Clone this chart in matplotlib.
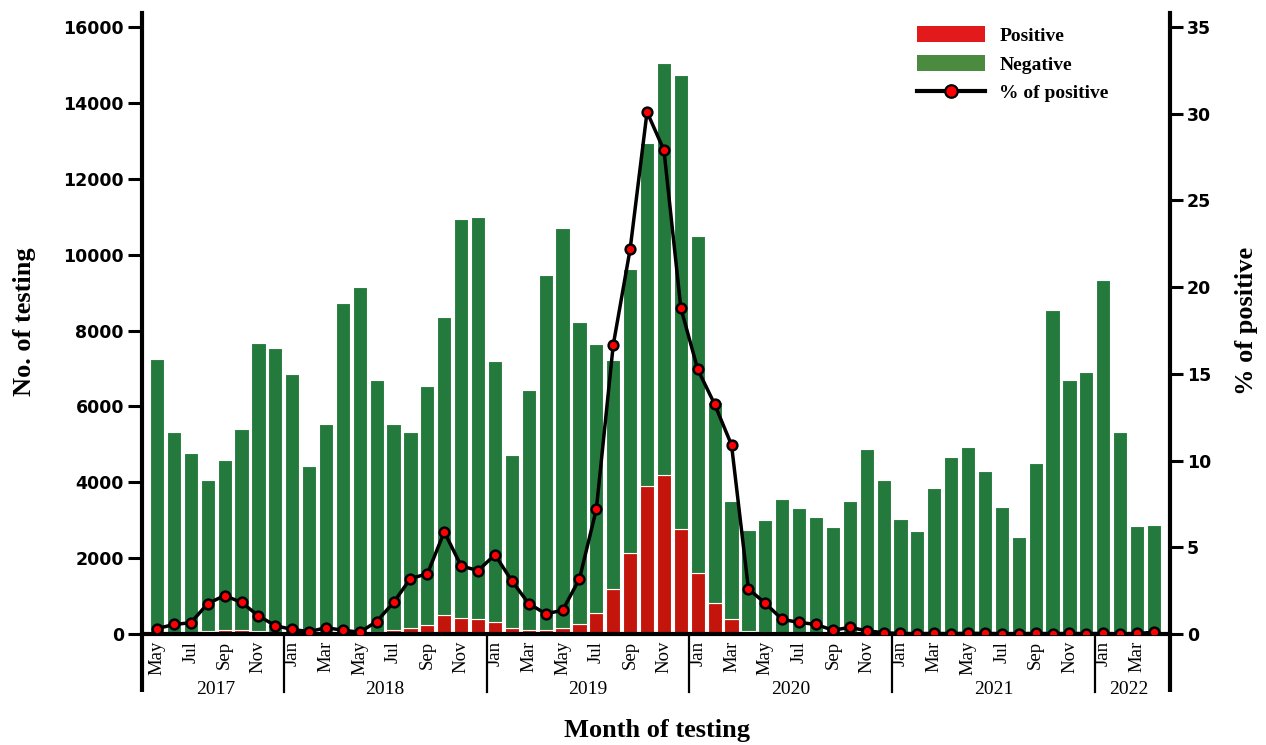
import matplotlib
matplotlib.use("Agg")
import matplotlib.pyplot as plt
from matplotlib.patches import Patch
from matplotlib.lines import Line2D
import numpy as np

# ---------------- data ----------------
years = ["2017", "2018", "2019", "2020", "2021", "2022"]
months_per_year = [8, 12, 12, 12, 12, 4]
month_names = ["May", "Jun", "Jul", "Aug", "Sep", "Oct", "Nov", "Dec",
               "Jan", "Feb", "Mar", "Apr", "May", "Jun", "Jul", "Aug", "Sep", "Oct", "Nov", "Dec",
               "Jan", "Feb", "Mar", "Apr", "May", "Jun", "Jul", "Aug", "Sep", "Oct", "Nov", "Dec",
               "Jan", "Feb", "Mar", "Apr", "May", "Jun", "Jul", "Aug", "Sep", "Oct", "Nov", "Dec",
               "Jan", "Feb", "Mar", "Apr", "May", "Jun", "Jul", "Aug", "Sep", "Oct", "Nov", "Dec",
               "Jan", "Feb", "Mar", "Apr"]

total_tests = [7247, 5323, 4776, 4066, 4580, 5410, 7673, 7531,
               6842, 4438, 5531, 8733, 9137, 6700, 5531, 5323, 6525, 8361, 10952, 10996,
               7192, 4722, 6438, 9476, 10711, 8219, 7640, 7214, 9618, 12941, 15040, 14723,
               10482, 6110, 3519, 2743, 3006, 3552, 3323, 3093, 2809, 3519, 4864, 4066,
               3028, 2722, 3836, 4667, 4918, 4295, 3345, 2547, 4503, 8536, 6700, 6897,
               9334, 5323, 2842, 2864]

positive = [22, 29, 31, 71, 102, 98, 81, 36,
            18, 6, 20, 19, 9, 48, 101, 170, 226, 492, 429, 402,
            320, 145, 113, 111, 146, 261, 550, 1190, 2135, 3895, 4196, 2768,
            1600, 810, 384, 71, 53, 30, 22, 17, 7, 13, 9, 3,
            1, 1, 1, 0, 1, 1, 0, 0, 1, 1, 0, 1,
            1, 0, 1, 3]

pct_positive = [0.31, 0.55, 0.65, 1.75, 2.22, 1.82, 1.05, 0.48,
                0.26, 0.14, 0.36, 0.22, 0.10, 0.72, 1.82, 3.20, 3.47, 5.89, 3.92, 3.66,
                4.57, 3.06, 1.75, 1.17, 1.36, 3.18, 7.20, 16.67, 22.20, 30.10, 27.90, 18.80,
                15.26, 13.25, 10.90, 2.60, 1.77, 0.84, 0.67, 0.55, 0.22, 0.38, 0.19, 0.07,
                0.03, 0.02, 0.03, 0.02, 0.04, 0.03, 0.02, 0.02, 0.03, 0.02, 0.03, 0.02,
                0.03, 0.01, 0.03, 0.10]

negative = [t - p for t, p in zip(total_tests, positive)]

# ---------------- style ----------------
RED_BAR = "#c4150c"
GREEN_BAR = "#237a3c"
RED_LEG = "#e31a1c"
GREEN_LEG = "#4b8b3f"
SERIF = ["Liberation Serif", "DejaVu Serif"]
SANS = ["DejaVu Sans"]

W, H = 1266, 745
fig = plt.figure(figsize=(W / 100, H / 100), dpi=100)
ax_l, ax_r, ax_t, ax_b = 142, 1170, 13, 634
ax = fig.add_axes([ax_l / W, 1 - ax_b / H, (ax_r - ax_l) / W, (ax_b - ax_t) / H])

x = np.arange(len(total_tests))
bw = 0.84
ax.bar(x, positive, width=bw, color=RED_BAR, edgecolor="white", linewidth=0.8, zorder=2)
ax.bar(x, negative, bottom=positive, width=bw, color=GREEN_BAR, edgecolor="white",
       linewidth=0.8, zorder=2)

ax.set_xlim(-0.89, 59.95)
ax.set_ylim(0, 16370)
ax.set_yticks(np.arange(0, 16001, 2000))
ax.set_yticklabels([str(v) for v in range(0, 16001, 2000)], fontfamily=SANS,
                   fontweight="bold", fontsize=12.5)

for s in ["top", "right"]:
    ax.spines[s].set_visible(False)
for s in ["left", "bottom"]:
    ax.spines[s].set_linewidth(3)
ax.tick_params(axis="y", direction="out", length=10, width=2.2, pad=3)

# month tick labels (every other month)
tick_pos = x[::2]
ax.set_xticks(tick_pos)
ax.set_xticklabels([month_names[i] for i in tick_pos], rotation=90, fontfamily=SERIF,
                   fontsize=13.5, va="top")
ax.tick_params(axis="x", length=0, pad=5)

# year labels and separators
sep_y = (ax_b - 692) / (ax_b - ax_t)
year_y = (ax_b - 690) / (ax_b - ax_t)
start = 0
trans = ax.get_xaxis_transform()
for yr, n in zip(years, months_per_year):
    center = start + (n - 1) / 2
    ax.text(center, year_y, yr, transform=trans, ha="center", va="center",
            fontfamily=SERIF, fontsize=14)
    start += n
    if start < len(total_tests):
        ax.add_line(Line2D([start - 0.5, start - 0.5], [0, sep_y], transform=trans,
                           color="black", lw=1.6, clip_on=False))
# extended spines below the axis
for xa in [0, 1]:
    ax.add_line(Line2D([xa, xa], [0, sep_y], transform=ax.transAxes, color="black",
                       lw=3, clip_on=False, solid_capstyle="butt"))

# right axis: percent
ax2 = ax.twinx()
ax2.plot(x, pct_positive, color="black", lw=2.5, marker="o", markersize=7,
         markerfacecolor="#ff0000", markeredgecolor="black", markeredgewidth=1.8, zorder=5)
ax2.set_ylim(0, 35.81)
ax2.set_yticks(np.arange(0, 36, 5))
ax2.set_yticklabels([str(v) for v in range(0, 36, 5)], fontfamily=SANS,
                    fontweight="bold", fontsize=12.5)
for s in ["top", "left", "bottom"]:
    ax2.spines[s].set_visible(False)
ax2.spines["right"].set_linewidth(3)
ax2.tick_params(axis="y", direction="out", length=9, width=2.2, pad=3)

# axis titles
fig.text(24 / W, 1 - 322 / H, "No. of testing", rotation=90, ha="center", va="center",
         fontfamily=SERIF, fontweight="bold", fontsize=19)
fig.text(1247 / W, 1 - 321 / H, "% of positive", rotation=90, ha="center", va="center",
         fontfamily=SERIF, fontweight="bold", fontsize=19)
fig.text(657 / W, 1 - 731 / H, "Month of testing", ha="center", va="center",
         fontfamily=SERIF, fontweight="bold", fontsize=19)

# legend
handles = [Patch(facecolor=RED_LEG, edgecolor="none"),
           Patch(facecolor=GREEN_LEG, edgecolor="none"),
           Line2D([], [], color="black", lw=3, marker="o", markersize=9,
                  markerfacecolor="#ff0000", markeredgecolor="black", markeredgewidth=1.6)]
labels = ["Positive", "Negative", "% of positive"]
fig.legend(handles, labels, loc="upper left", bbox_to_anchor=(907 / W, 1 - 16 / H),
           frameon=False, borderpad=0, handlelength=3.5, handleheight=0.95,
           handletextpad=0.75, labelspacing=0.5,
           prop={"family": SERIF, "weight": "bold", "size": 14})

fig.savefig("out.png", dpi=100)
